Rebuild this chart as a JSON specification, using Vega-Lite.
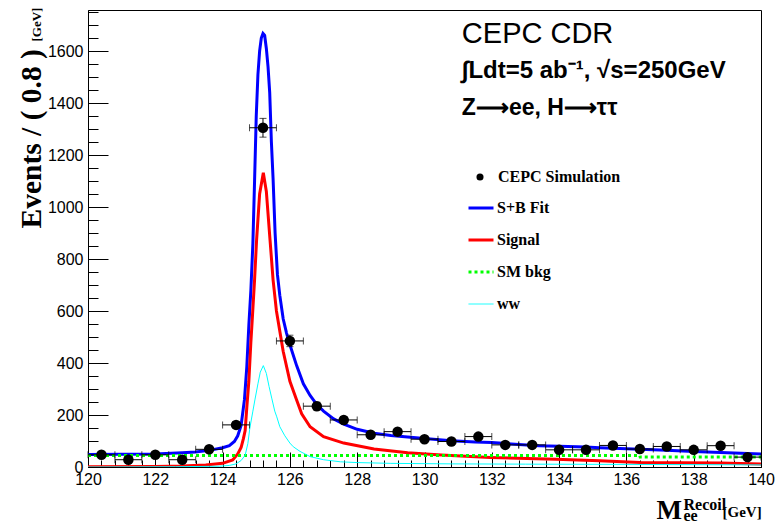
{
  "$schema": "https://vega.github.io/schema/vega-lite/v6.json",
  "width": 673,
  "height": 457,
  "autosize": {"type": "none"},
  "padding": {"left": 88, "top": 10, "right": 14, "bottom": 57},
  "background": "white",
  "config": {
    "view": {"stroke": "#000", "strokeWidth": 1},
    "axis": {"domainColor": "#000", "tickColor": "#000", "labelColor": "#000", "labelFont": "Liberation Sans", "labelFontSize": 16, "titleFont": "Liberation Serif", "titleFontWeight": "bold", "titleColor": "#000", "grid": false, "domainWidth": 1, "tickWidth": 1, "labelFlush": false, "labelOverlap": false}
  },
  "datasets": {
    "points": [
      {"x": 120.4, "y": 47, "xlo": 120.0, "xhi": 120.8, "ylo": 40.1, "yhi": 53.9, "kind": "CEPC Simulation"},
      {"x": 121.2, "y": 28, "xlo": 120.8, "xhi": 121.6, "ylo": 22.7, "yhi": 33.3, "kind": "CEPC Simulation"},
      {"x": 122.0, "y": 47, "xlo": 121.6, "xhi": 122.4, "ylo": 40.1, "yhi": 53.9, "kind": "CEPC Simulation"},
      {"x": 122.8, "y": 28, "xlo": 122.4, "xhi": 123.2, "ylo": 22.7, "yhi": 33.3, "kind": "CEPC Simulation"},
      {"x": 123.6, "y": 68, "xlo": 123.2, "xhi": 124.0, "ylo": 59.8, "yhi": 76.2, "kind": "CEPC Simulation"},
      {"x": 124.4, "y": 162, "xlo": 124.0, "xhi": 124.8, "ylo": 149.3, "yhi": 174.7, "kind": "CEPC Simulation"},
      {"x": 125.2, "y": 1305, "xlo": 124.8, "xhi": 125.6, "ylo": 1268.9, "yhi": 1341.1, "kind": "CEPC Simulation"},
      {"x": 126.0, "y": 485, "xlo": 125.6, "xhi": 126.4, "ylo": 463, "yhi": 507, "kind": "CEPC Simulation"},
      {"x": 126.8, "y": 234, "xlo": 126.4, "xhi": 127.2, "ylo": 218.7, "yhi": 249.3, "kind": "CEPC Simulation"},
      {"x": 127.6, "y": 181, "xlo": 127.2, "xhi": 128.0, "ylo": 167.5, "yhi": 194.5, "kind": "CEPC Simulation"},
      {"x": 128.4, "y": 124, "xlo": 128.0, "xhi": 128.8, "ylo": 112.9, "yhi": 135.1, "kind": "CEPC Simulation"},
      {"x": 129.2, "y": 136, "xlo": 128.8, "xhi": 129.6, "ylo": 124.3, "yhi": 147.7, "kind": "CEPC Simulation"},
      {"x": 130.0, "y": 107, "xlo": 129.6, "xhi": 130.4, "ylo": 96.7, "yhi": 117.3, "kind": "CEPC Simulation"},
      {"x": 130.8, "y": 98, "xlo": 130.4, "xhi": 131.2, "ylo": 88.1, "yhi": 107.9, "kind": "CEPC Simulation"},
      {"x": 131.6, "y": 117, "xlo": 131.2, "xhi": 132.0, "ylo": 106.2, "yhi": 127.8, "kind": "CEPC Simulation"},
      {"x": 132.4, "y": 85, "xlo": 132.0, "xhi": 132.8, "ylo": 75.8, "yhi": 94.2, "kind": "CEPC Simulation"},
      {"x": 133.2, "y": 85, "xlo": 132.8, "xhi": 133.6, "ylo": 75.8, "yhi": 94.2, "kind": "CEPC Simulation"},
      {"x": 134.0, "y": 66, "xlo": 133.6, "xhi": 134.4, "ylo": 57.9, "yhi": 74.1, "kind": "CEPC Simulation"},
      {"x": 134.8, "y": 66, "xlo": 134.4, "xhi": 135.2, "ylo": 57.9, "yhi": 74.1, "kind": "CEPC Simulation"},
      {"x": 135.6, "y": 83, "xlo": 135.2, "xhi": 136.0, "ylo": 73.9, "yhi": 92.1, "kind": "CEPC Simulation"},
      {"x": 136.4, "y": 69, "xlo": 136.0, "xhi": 136.8, "ylo": 60.7, "yhi": 77.3, "kind": "CEPC Simulation"},
      {"x": 137.2, "y": 79, "xlo": 136.8, "xhi": 137.6, "ylo": 70.1, "yhi": 87.9, "kind": "CEPC Simulation"},
      {"x": 138.0, "y": 66, "xlo": 137.6, "xhi": 138.4, "ylo": 57.9, "yhi": 74.1, "kind": "CEPC Simulation"},
      {"x": 138.8, "y": 82, "xlo": 138.4, "xhi": 139.2, "ylo": 72.9, "yhi": 91.1, "kind": "CEPC Simulation"},
      {"x": 139.6, "y": 38, "xlo": 139.2, "xhi": 140.0, "ylo": 31.8, "yhi": 44.2, "kind": "CEPC Simulation"}
    ],
    "curves": [
      {"series": "S+B Fit", "x": 120.0, "y": 48},
      {"series": "S+B Fit", "x": 121.0, "y": 49},
      {"series": "S+B Fit", "x": 122.0, "y": 50},
      {"series": "S+B Fit", "x": 122.8, "y": 55},
      {"series": "S+B Fit", "x": 123.2, "y": 58},
      {"series": "S+B Fit", "x": 123.6, "y": 64},
      {"series": "S+B Fit", "x": 124.0, "y": 74},
      {"series": "S+B Fit", "x": 124.2, "y": 82},
      {"series": "S+B Fit", "x": 124.35, "y": 98},
      {"series": "S+B Fit", "x": 124.45, "y": 120},
      {"series": "S+B Fit", "x": 124.55, "y": 160},
      {"series": "S+B Fit", "x": 124.65, "y": 260},
      {"series": "S+B Fit", "x": 124.72, "y": 386},
      {"series": "S+B Fit", "x": 124.78, "y": 545},
      {"series": "S+B Fit", "x": 124.84, "y": 680},
      {"series": "S+B Fit", "x": 124.9, "y": 860},
      {"series": "S+B Fit", "x": 124.95, "y": 1100},
      {"series": "S+B Fit", "x": 125.0, "y": 1350},
      {"series": "S+B Fit", "x": 125.05, "y": 1510},
      {"series": "S+B Fit", "x": 125.1, "y": 1600},
      {"series": "S+B Fit", "x": 125.15, "y": 1650},
      {"series": "S+B Fit", "x": 125.2, "y": 1668},
      {"series": "S+B Fit", "x": 125.25, "y": 1660},
      {"series": "S+B Fit", "x": 125.3, "y": 1610},
      {"series": "S+B Fit", "x": 125.35, "y": 1540},
      {"series": "S+B Fit", "x": 125.4, "y": 1440},
      {"series": "S+B Fit", "x": 125.45, "y": 1250},
      {"series": "S+B Fit", "x": 125.5, "y": 1110},
      {"series": "S+B Fit", "x": 125.56, "y": 900},
      {"series": "S+B Fit", "x": 125.63, "y": 740},
      {"series": "S+B Fit", "x": 125.7, "y": 660},
      {"series": "S+B Fit", "x": 125.8, "y": 570},
      {"series": "S+B Fit", "x": 125.9, "y": 515},
      {"series": "S+B Fit", "x": 126.0, "y": 470},
      {"series": "S+B Fit", "x": 126.2, "y": 390},
      {"series": "S+B Fit", "x": 126.4, "y": 320},
      {"series": "S+B Fit", "x": 126.6, "y": 275},
      {"series": "S+B Fit", "x": 126.8, "y": 240},
      {"series": "S+B Fit", "x": 127.0, "y": 215},
      {"series": "S+B Fit", "x": 127.3, "y": 185},
      {"series": "S+B Fit", "x": 127.6, "y": 165},
      {"series": "S+B Fit", "x": 128.0, "y": 145},
      {"series": "S+B Fit", "x": 128.5, "y": 130},
      {"series": "S+B Fit", "x": 129.0, "y": 121},
      {"series": "S+B Fit", "x": 129.5, "y": 115},
      {"series": "S+B Fit", "x": 130.0, "y": 110},
      {"series": "S+B Fit", "x": 130.8, "y": 101},
      {"series": "S+B Fit", "x": 131.5, "y": 96},
      {"series": "S+B Fit", "x": 132.0, "y": 94},
      {"series": "S+B Fit", "x": 132.8, "y": 87},
      {"series": "S+B Fit", "x": 133.4, "y": 82},
      {"series": "S+B Fit", "x": 134.0, "y": 80},
      {"series": "S+B Fit", "x": 134.8, "y": 77},
      {"series": "S+B Fit", "x": 135.2, "y": 74},
      {"series": "S+B Fit", "x": 136.0, "y": 70},
      {"series": "S+B Fit", "x": 136.4, "y": 68},
      {"series": "S+B Fit", "x": 137.2, "y": 64},
      {"series": "S+B Fit", "x": 138.0, "y": 60},
      {"series": "S+B Fit", "x": 138.8, "y": 56},
      {"series": "S+B Fit", "x": 139.4, "y": 53},
      {"series": "S+B Fit", "x": 140.0, "y": 50},
      {"series": "Signal", "x": 120.0, "y": 1},
      {"series": "Signal", "x": 122.0, "y": 2},
      {"series": "Signal", "x": 122.8, "y": 4},
      {"series": "Signal", "x": 123.5, "y": 8},
      {"series": "Signal", "x": 124.0, "y": 14},
      {"series": "Signal", "x": 124.3, "y": 27},
      {"series": "Signal", "x": 124.45, "y": 50},
      {"series": "Signal", "x": 124.55, "y": 75},
      {"series": "Signal", "x": 124.62, "y": 110},
      {"series": "Signal", "x": 124.67, "y": 140},
      {"series": "Signal", "x": 124.72, "y": 230},
      {"series": "Signal", "x": 124.78, "y": 330},
      {"series": "Signal", "x": 124.84, "y": 480},
      {"series": "Signal", "x": 124.88, "y": 565},
      {"series": "Signal", "x": 124.95, "y": 720},
      {"series": "Signal", "x": 125.01, "y": 873},
      {"series": "Signal", "x": 125.1, "y": 1050},
      {"series": "Signal", "x": 125.21, "y": 1132},
      {"series": "Signal", "x": 125.3, "y": 1060},
      {"series": "Signal", "x": 125.41, "y": 873},
      {"series": "Signal", "x": 125.5, "y": 720},
      {"series": "Signal", "x": 125.6, "y": 600},
      {"series": "Signal", "x": 125.8, "y": 445},
      {"series": "Signal", "x": 126.0, "y": 330},
      {"series": "Signal", "x": 126.2, "y": 258},
      {"series": "Signal", "x": 126.35, "y": 205},
      {"series": "Signal", "x": 126.6, "y": 155},
      {"series": "Signal", "x": 127.0, "y": 117},
      {"series": "Signal", "x": 127.6, "y": 92},
      {"series": "Signal", "x": 128.5, "y": 69},
      {"series": "Signal", "x": 129.5, "y": 55},
      {"series": "Signal", "x": 130.5, "y": 46},
      {"series": "Signal", "x": 131.95, "y": 37},
      {"series": "Signal", "x": 133.9, "y": 30},
      {"series": "Signal", "x": 135.2, "y": 24},
      {"series": "Signal", "x": 136.4, "y": 17},
      {"series": "Signal", "x": 138.8, "y": 15},
      {"series": "Signal", "x": 140.0, "y": 12},
      {"series": "SM bkg", "x": 120.0, "y": 44},
      {"series": "SM bkg", "x": 136.4, "y": 44},
      {"series": "SM bkg", "x": 136.41, "y": 38},
      {"series": "SM bkg", "x": 140.0, "y": 38},
      {"series": "ww", "x": 120.0, "y": 0},
      {"series": "ww", "x": 122.6, "y": 1},
      {"series": "ww", "x": 123.9, "y": 3},
      {"series": "ww", "x": 124.2, "y": 6},
      {"series": "ww", "x": 124.4, "y": 12},
      {"series": "ww", "x": 124.55, "y": 25},
      {"series": "ww", "x": 124.67, "y": 45},
      {"series": "ww", "x": 124.75, "y": 90},
      {"series": "ww", "x": 124.81, "y": 150},
      {"series": "ww", "x": 124.9, "y": 215},
      {"series": "ww", "x": 124.96, "y": 258},
      {"series": "ww", "x": 125.05, "y": 320},
      {"series": "ww", "x": 125.12, "y": 365},
      {"series": "ww", "x": 125.21, "y": 390},
      {"series": "ww", "x": 125.3, "y": 360},
      {"series": "ww", "x": 125.38, "y": 310},
      {"series": "ww", "x": 125.46, "y": 265},
      {"series": "ww", "x": 125.55, "y": 215},
      {"series": "ww", "x": 125.61, "y": 193},
      {"series": "ww", "x": 125.7, "y": 155},
      {"series": "ww", "x": 125.85, "y": 120},
      {"series": "ww", "x": 126.0, "y": 92},
      {"series": "ww", "x": 126.1, "y": 78},
      {"series": "ww", "x": 126.3, "y": 60},
      {"series": "ww", "x": 126.6, "y": 40},
      {"series": "ww", "x": 127.0, "y": 28},
      {"series": "ww", "x": 127.5, "y": 20},
      {"series": "ww", "x": 128.0, "y": 17},
      {"series": "ww", "x": 129.0, "y": 14},
      {"series": "ww", "x": 130.8, "y": 12},
      {"series": "ww", "x": 133.0, "y": 11},
      {"series": "ww", "x": 136.0, "y": 10},
      {"series": "ww", "x": 140.0, "y": 8}
    ]
  },
  "resolve": {"axis": {"x": "independent", "y": "independent"}},
  "layer": [
    {
      "data": {"name": "curves"},
      "transform": [{"filter": "datum.series === 'S+B Fit'"}],
      "mark": {"type": "line", "strokeWidth": 3, "clip": true},
      "encoding": {
        "x": {"field": "x", "type": "quantitative", "scale": {"domain": [120, 140], "nice": false, "zero": false},
          "axis": {"orient": "bottom", "values": [120,122,124,126,128,130,132,134,136,138,140], "format": "d", "tickSize": -15, "labelPadding": 19, "title": "M", "titleFontSize": 27, "titleX": 568, "titleY": 51, "titleAlign": "left", "titleBaseline": "alphabetic", "titleAngle": 0}},
        "y": {"field": "y", "type": "quantitative", "scale": {"domain": [0, 1758], "nice": false, "zero": true},
          "axis": {"orient": "left", "values": [0,200,400,600,800,1000,1200,1400,1600], "format": "d", "tickSize": -20, "labelPadding": 25, "title": "Events / ( 0.8 )", "titleFontSize": 29.5, "titleAngle": -90, "titleX": -48, "titleY": 218, "titleAlign": "left", "titleBaseline": "alphabetic"}},
        "color": {"field": "series", "type": "nominal",
          "scale": {"domain": ["S+B Fit", "Signal", "SM bkg", "ww"], "range": ["#0000ff", "#ff0000", "#00ff00", "#00ffff"]},
          "legend": {"orient": "none", "legendX": 385, "legendY": 190, "title": null, "symbolType": "stroke", "symbolSize": 625, "symbolStrokeWidth": 3, "labelFont": "Liberation Serif", "labelFontWeight": "bold", "labelFontSize": 16, "labelColor": "#000", "labelOffset": 8, "rowPadding": 16, "padding": 0,
            "encode": {"symbols": {"update": {"strokeWidth": {"signal": "datum.value === 'ww' ? 1 : 3"}, "strokeDash": {"signal": "datum.value === 'SM bkg' ? [3,3] : [1,0]"}}}}}}
      }
    },
    {
      "data": {"name": "curves"},
      "transform": [{"filter": "datum.series === 'Signal'"}],
      "mark": {"type": "line", "strokeWidth": 3, "color": "#ff0000", "clip": true},
      "encoding": {
        "x": {"field": "x", "type": "quantitative", "scale": {"domain": [120, 140], "nice": false, "zero": false},
          "axis": {"orient": "bottom", "values": [120,120.4,120.8,121.2,121.6,122,122.4,122.8,123.2,123.6,124,124.4,124.8,125.2,125.6,126,126.4,126.8,127.2,127.6,128,128.4,128.8,129.2,129.6,130,130.4,130.8,131.2,131.6,132,132.4,132.8,133.2,133.6,134,134.4,134.8,135.2,135.6,136,136.4,136.8,137.2,137.6,138,138.4,138.8,139.2,139.6,140], "tickSize": -7, "labels": false, "domain": false, "title": "Recoil", "titleFontSize": 16, "titleX": 595, "titleY": 42, "titleAlign": "left", "titleBaseline": "alphabetic", "titleAngle": 0}},
        "y": {"field": "y", "type": "quantitative", "scale": {"domain": [0, 1758], "nice": false, "zero": true},
          "axis": {"orient": "left", "values": [0,50,100,150,200,250,300,350,400,450,500,550,600,650,700,750,800,850,900,950,1000,1050,1100,1150,1200,1250,1300,1350,1400,1450,1500,1550,1600,1650,1700,1750], "tickSize": -10, "labels": false, "domain": false, "title": "[GeV]", "titleFontSize": 13, "titleAngle": -90, "titleX": -48, "titleY": 31, "titleAlign": "left", "titleBaseline": "alphabetic"}}
      }
    },
    {
      "data": {"name": "curves"},
      "transform": [{"filter": "datum.series === 'SM bkg'"}],
      "mark": {"type": "line", "strokeWidth": 3, "color": "#00ff00", "strokeDash": [3, 3], "clip": true},
      "encoding": {
        "x": {"field": "x", "type": "quantitative", "scale": {"domain": [120, 140], "nice": false, "zero": false},
          "axis": {"orient": "bottom", "ticks": false, "labels": false, "domain": false, "title": "ee", "titleFontSize": 16, "titleX": 595, "titleY": 53, "titleAlign": "left", "titleBaseline": "alphabetic", "titleAngle": 0}},
        "y": {"field": "y", "type": "quantitative", "scale": {"domain": [0, 1758], "nice": false, "zero": true}, "axis": null}
      }
    },
    {
      "data": {"name": "curves"},
      "transform": [{"filter": "datum.series === 'ww'"}],
      "mark": {"type": "line", "strokeWidth": 1, "color": "#00ffff", "clip": true},
      "encoding": {
        "x": {"field": "x", "type": "quantitative", "scale": {"domain": [120, 140], "nice": false, "zero": false},
          "axis": {"orient": "bottom", "ticks": false, "labels": false, "domain": false, "title": "[GeV]", "titleFontSize": 15, "titleX": 634, "titleY": 49, "titleAlign": "left", "titleBaseline": "alphabetic", "titleAngle": 0}},
        "y": {"field": "y", "type": "quantitative", "scale": {"domain": [0, 1758], "nice": false, "zero": true}, "axis": null}
      }
    },
    {
      "data": {"name": "points"},
      "mark": {"type": "errorbar", "ticks": {"size": 7, "color": "#000"}, "rule": {"color": "#000", "strokeWidth": 1}},
      "encoding": {
        "x": {"field": "xlo", "type": "quantitative", "scale": {"domain": [120, 140], "nice": false, "zero": false}, "axis": null},
        "x2": {"field": "xhi"},
        "y": {"field": "y", "type": "quantitative", "scale": {"domain": [0, 1758], "nice": false, "zero": true}, "axis": null}
      }
    },
    {
      "data": {"name": "points"},
      "mark": {"type": "errorbar", "ticks": {"size": 7, "color": "#000"}, "rule": {"color": "#000", "strokeWidth": 1}},
      "encoding": {
        "x": {"field": "x", "type": "quantitative", "scale": {"domain": [120, 140], "nice": false, "zero": false}, "axis": null},
        "y": {"field": "ylo", "type": "quantitative", "scale": {"domain": [0, 1758], "nice": false, "zero": true}, "axis": null},
        "y2": {"field": "yhi"}
      }
    },
    {
      "data": {"name": "points"},
      "mark": {"type": "point", "filled": true, "size": 110, "color": "#000", "opacity": 1},
      "encoding": {
        "x": {"field": "x", "type": "quantitative", "scale": {"domain": [120, 140], "nice": false, "zero": false}, "axis": null},
        "y": {"field": "y", "type": "quantitative", "scale": {"domain": [0, 1758], "nice": false, "zero": true}, "axis": null},
        "shape": {"field": "kind", "type": "nominal", "scale": {"domain": ["CEPC Simulation"], "range": ["circle"]},
          "legend": {"orient": "none", "legendX": 384, "legendY": 159, "title": null, "symbolSize": 50, "symbolFillColor": "#000", "symbolStrokeColor": "#000", "labelFont": "Liberation Serif", "labelFontWeight": "bold", "labelFontSize": 16, "labelColor": "#000", "labelOffset": 10, "padding": 0}}
      }
    },
    {
      "data": {"values": [{"t": "CEPC CDR"}]},
      "mark": {"type": "text", "font": "Liberation Sans", "fontSize": 29, "align": "left", "baseline": "alphabetic", "color": "#000"},
      "encoding": {
        "text": {"field": "t"},
        "x": {"datum": 131.11, "type": "quantitative", "scale": {"domain": [120, 140], "nice": false, "zero": false}, "axis": null},
        "y": {"datum": 1631, "type": "quantitative", "scale": {"domain": [0, 1758], "nice": false, "zero": true}, "axis": null}
      }
    },
    {
      "data": {"values": [{"t": "∫Ldt=5 ab⁻¹,  √s=250GeV"}]},
      "mark": {"type": "text", "font": "Liberation Sans", "fontWeight": "bold", "fontSize": 24, "align": "left", "baseline": "alphabetic", "color": "#000"},
      "encoding": {
        "text": {"field": "t"},
        "x": {"datum": 131.11, "type": "quantitative", "scale": {"domain": [120, 140], "nice": false, "zero": false}, "axis": null},
        "y": {"datum": 1496, "type": "quantitative", "scale": {"domain": [0, 1758], "nice": false, "zero": true}, "axis": null}
      }
    },
    {
      "data": {"values": [{"t": "Z⟶ee, H⟶ττ"}]},
      "mark": {"type": "text", "font": "Liberation Sans", "fontWeight": "bold", "fontSize": 23, "align": "left", "baseline": "alphabetic", "color": "#000"},
      "encoding": {
        "text": {"field": "t"},
        "x": {"datum": 131.11, "type": "quantitative", "scale": {"domain": [120, 140], "nice": false, "zero": false}, "axis": null},
        "y": {"datum": 1354, "type": "quantitative", "scale": {"domain": [0, 1758], "nice": false, "zero": true}, "axis": null}
      }
    }
  ]
}
